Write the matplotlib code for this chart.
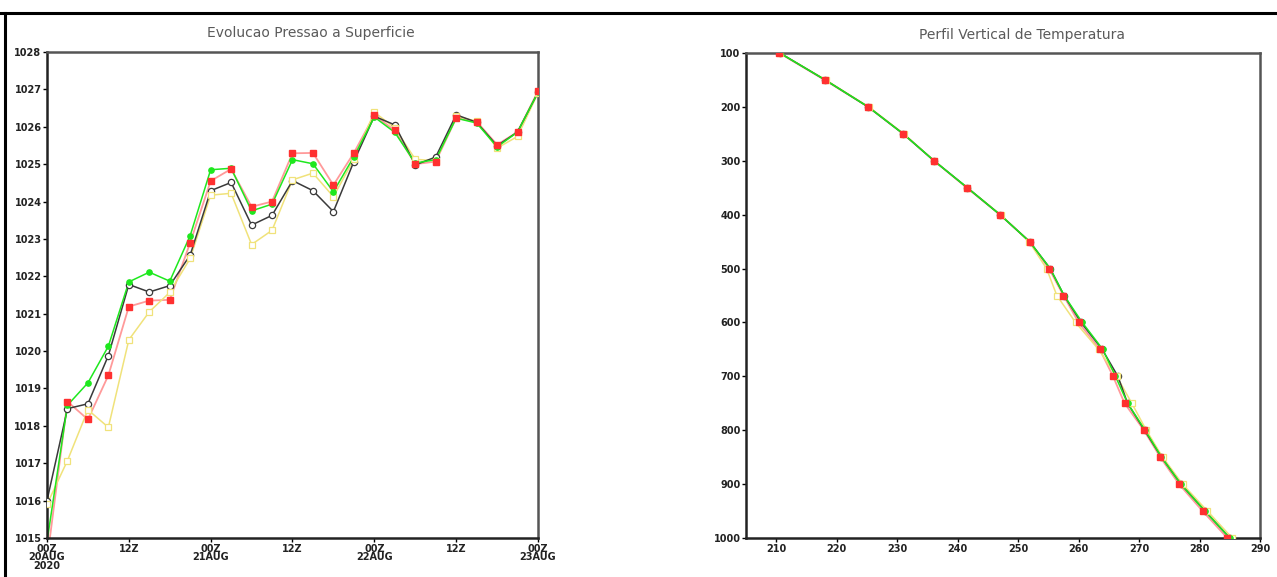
import numpy as np
import matplotlib
matplotlib.use("Agg")
import matplotlib.pyplot as plt
from matplotlib.lines import Line2D

# --- surface pressure evolution (every 3 h, 00Z 20AUG -> 00Z 23AUG)
hours = np.arange(0, 75, 3)
p_green = [1014.9, 1018.55, 1019.15, 1020.13, 1021.85, 1022.11, 1021.87, 1023.09, 1024.85, 1024.89,
           1023.75, 1023.93, 1025.12, 1025.01, 1024.26, 1025.20, 1026.26, 1025.85, 1025.03, 1025.12,
           1026.23, 1026.10, 1025.46, 1025.86, 1026.92]
p_black = [1016.0, 1018.46, 1018.59, 1019.88, 1021.78, 1021.58, 1021.75, 1022.57, 1024.29, 1024.51,
           1023.37, 1023.63, 1024.56, 1024.29, 1023.73, 1025.07, 1026.28, 1026.05, 1024.98, 1025.19,
           1026.32, 1026.12, 1025.49, 1025.86, 1026.92]
p_red = [1014.4, 1018.65, 1018.17, 1019.35, 1021.19, 1021.35, 1021.37, 1022.90, 1024.55, 1024.87,
         1023.86, 1024.00, 1025.29, 1025.30, 1024.44, 1025.30, 1026.31, 1025.90, 1025.00, 1025.07,
         1026.23, 1026.14, 1025.52, 1025.86, 1026.95]
p_yellow = [1015.9, 1017.07, 1018.43, 1017.96, 1020.30, 1021.05, 1021.57, 1022.48, 1024.17, 1024.22,
            1022.85, 1023.23, 1024.58, 1024.76, 1024.13, 1025.13, 1026.39, 1025.97, 1025.13, 1025.09,
            1026.28, 1026.15, 1025.43, 1025.74, 1026.90]
time_ticks = [0, 12, 24, 36, 48, 60, 72]
time_labels = ["00Z\n20AUG\n2020", "12Z", "00Z\n21AUG", "12Z", "00Z\n22AUG", "12Z", "00Z\n23AUG"]

# --- vertical temperature profile
levels = [100, 150, 200, 250, 300, 350, 400, 450, 500, 550, 600, 650, 700, 750, 800, 850, 900, 950, 1000]
t_red = [210.5, 218.0, 225.2, 231.0, 236.1, 241.5, 247.0, 251.9, 255.1, 257.5, 260.0, 263.5,
         265.7, 267.6, 270.8, 273.5, 276.6, 280.5, 284.6]
t_green = [210.6, 218.1, 225.2, 231.0, 236.1, 241.6, 247.0, 251.9, 255.3, 257.6, 260.6, 264.0,
           266.1, 268.1, 271.0, 273.7, 276.9, 280.9, 285.0]
t_black = [210.6, 218.1, 225.2, 231.0, 236.1, 241.6, 247.0, 251.9, 255.3, 257.6, 260.4, 263.9,
           266.5, 268.1, 270.9, 273.7, 276.9, 280.9, 285.0]
t_yellow = [210.6, 218.2, 225.3, 231.1, 236.1, 241.6, 247.1, 251.8, 254.7, 256.4, 259.5, 263.3,
            266.3, 268.8, 271.2, 273.9, 277.2, 281.3, 285.4]

BLACK = "#3a3a3a"
GREEN = "#1ee81e"
RED = "#ff3030"
RED_LINE = "#ff9a9a"
YELLOW = "#f0e27a"

fig = plt.figure(figsize=(12.77, 5.77), dpi=100)


def style(ax):
    for s in ax.spines.values():
        s.set_color("#555555")
        s.set_linewidth(1.8)
    ax.spines["left"].set_color("#222222")
    ax.spines["bottom"].set_color("#222222")
    ax.tick_params(direction="out", length=3, width=1, labelsize=7, pad=1,
                   top=False, right=False)
    for lab in ax.get_xticklabels() + ax.get_yticklabels():
        lab.set_fontweight("bold")
        lab.set_color("#222222")


def draw(ax, xs, ys):
    (xb, xy, xg, xr), (yb, yy, yg, yr) = xs, ys
    # lines first, red line under the others
    ax.plot(xr, yr, color=RED_LINE, lw=1.3, zorder=2)
    ax.plot(xy, yy, color=YELLOW, lw=1.1, zorder=2.1)
    ax.plot(xb, yb, color=BLACK, lw=1.1, zorder=2.2)
    ax.plot(xg, yg, color=GREEN, lw=1.1, zorder=2.3)
    # markers
    ax.plot(xb, yb, ls="none", marker="o", ms=4.5, mfc="white", mec=BLACK, mew=0.9, zorder=3)
    ax.plot(xy, yy, ls="none", marker="s", ms=4.5, mfc="white", mec=YELLOW, mew=0.9, zorder=3.1)
    ax.plot(xg, yg, ls="none", marker="o", ms=3.8, mfc=GREEN, mec=GREEN, zorder=3.2)
    ax.plot(xr, yr, ls="none", marker="s", ms=4.0, mfc=RED, mec=RED, zorder=3.3)


# left panel
ax1 = fig.add_axes([0.0368, 0.0676, 0.3845, 0.8423])
draw(ax1, [hours] * 4, [p_black, p_yellow, p_green, p_red])
ax1.set_xlim(0, 72)
ax1.set_ylim(1015, 1028)
ax1.set_yticks(range(1015, 1029))
ax1.set_xticks(time_ticks)
ax1.set_xticklabels(time_labels, linespacing=0.85)
style(ax1)

# right panel
ax2 = fig.add_axes([0.5842, 0.0676, 0.4025, 0.8405])
draw(ax2, [t_black, t_yellow, t_green, t_red], [levels] * 4)
ax2.set_xlim(205, 290)
ax2.set_ylim(1000, 100)
ax2.set_xticks(range(210, 291, 10))
ax2.set_yticks(range(100, 1001, 100))
style(ax2)

fig.text(0.2435, 0.943, "Evolucao Pressao a Superficie", ha="center", va="center",
         fontsize=10, color="#5a5a5a")
fig.text(0.800, 0.939, "Perfil Vertical de Temperatura", ha="center", va="center",
         fontsize=10, color="#5a5a5a")

# screenshot frame lines
fig.add_artist(Line2D([0, 1], [0.977, 0.977], transform=fig.transFigure, color="black", lw=2.2))
fig.add_artist(Line2D([0.004, 0.004], [0, 0.977], transform=fig.transFigure, color="black", lw=2.2))

fig.savefig("out.png", dpi=100)
